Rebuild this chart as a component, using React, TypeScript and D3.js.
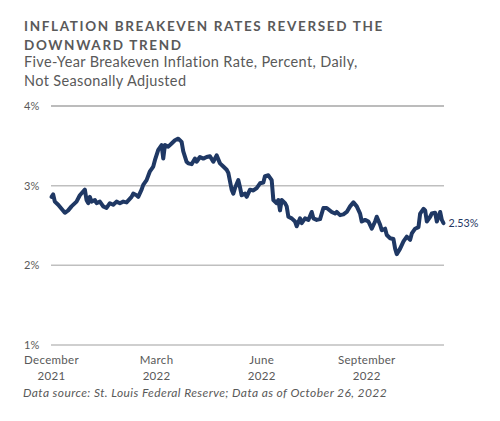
import React from "react";
import * as d3 from "d3";

const titleLines = ["INFLATION BREAKEVEN RATES REVERSED THE", "DOWNWARD TREND"];
const subtitleLines = ["Five-Year Breakeven Inflation Rate, Percent, Daily,", "Not Seasonally Adjusted"];
const sourceText = "Data source: St. Louis Federal Reserve; Data as of October 26, 2022";

// trading-day number counted from December 1, 2021
const tradingDay = [
  0, 1, 2, 4, 6, 8, 10, 12, 15, 17, 20, 21, 22, 23, 24, 26, 27, 29, 31, 33,
  35, 37, 39, 41, 43, 45, 48, 49, 51, 52, 54, 55, 57, 59, 61, 62, 64, 66, 67, 68,
  70, 72, 74, 76, 78, 79, 81, 82, 84, 86, 87, 89, 91, 93, 95, 97, 99, 101, 103, 105,
  106, 108, 109, 110, 112, 113, 114, 116, 117, 119, 121, 123, 125, 127, 128, 130, 132, 133, 135, 136,
  137, 138, 140, 141, 142, 144, 146, 147, 149, 150, 152, 154, 156, 157, 159, 161, 163, 165, 168, 170,
  171, 173, 175, 177, 179, 181, 183, 185, 186, 188, 190, 192, 194, 195, 197, 198, 200, 201, 203, 205,
  206, 207, 209, 211, 213, 215, 216, 218, 220, 221, 223, 224, 225, 227, 228, 230, 231, 233, 234, 235,
];
const rate = [
  2.86, 2.89, 2.80, 2.76, 2.71, 2.66, 2.69, 2.74, 2.80, 2.88, 2.95, 2.82, 2.78, 2.86, 2.80, 2.82, 2.78, 2.80, 2.74, 2.72,
  2.78, 2.76, 2.80, 2.78, 2.80, 2.79, 2.86, 2.90, 2.88, 2.86, 2.95, 3.01, 3.07, 3.18, 3.24, 3.32, 3.45, 3.51, 3.34, 3.51,
  3.49, 3.53, 3.57, 3.59, 3.55, 3.43, 3.30, 3.28, 3.27, 3.34, 3.30, 3.36, 3.34, 3.36, 3.37, 3.30, 3.38, 3.28, 3.24, 3.20,
  3.16, 2.95, 2.90, 2.97, 3.07, 2.98, 2.88, 2.90, 2.86, 2.95, 2.94, 2.97, 3.03, 3.04, 3.12, 3.13, 3.07, 2.82, 2.78, 2.82,
  2.69, 2.82, 2.78, 2.74, 2.61, 2.59, 2.55, 2.49, 2.59, 2.53, 2.59, 2.57, 2.67, 2.59, 2.57, 2.58, 2.72, 2.72, 2.67, 2.65,
  2.67, 2.63, 2.64, 2.67, 2.74, 2.79, 2.74, 2.65, 2.55, 2.57, 2.55, 2.46, 2.55, 2.61, 2.51, 2.44, 2.46, 2.38, 2.34, 2.33,
  2.21, 2.14, 2.21, 2.30, 2.36, 2.32, 2.40, 2.46, 2.48, 2.65, 2.71, 2.69, 2.55, 2.61, 2.65, 2.66, 2.55, 2.67, 2.57, 2.53,
];

const yTicks = [1, 2, 3, 4];
const xTickDay = [0, 63, 126, 189];
const xTickMonth = ["December", "March", "June", "September"];
const xTickYear = ["2021", "2022", "2022", "2022"];

const W = 500;
const H = 421;

export default function App() {
  const x = d3.scaleLinear().domain([0, 235]).range([51.5, 443.5]);
  const y = d3.scaleLinear().domain([1, 4]).range([345, 106]);
  const points = tradingDay.map((d, i) => [d, rate[i]] as [number, number]);
  const line = d3
    .line<[number, number]>()
    .x((d) => x(d[0]))
    .y((d) => y(d[1]));
  const last = points[points.length - 1];
  const navy = "#1f3864";
  const gray = "#595959";

  return (
    <svg
      width={W}
      height={H}
      style={{ position: "absolute", left: 0, top: 0, background: "#fff" }}
    >
      <rect width={W} height={H} fill="#fff" />
      {titleLines.map((t, i) => (
        <text
          key={t}
          x={24}
          y={31 + i * 19}
          fill={gray}
          fontFamily="Lato, 'Open Sans', sans-serif"
          fontWeight={700}
          fontSize={13.5}
          letterSpacing={1.65}
        >
          {t}
        </text>
      ))}
      {subtitleLines.map((t, i) => (
        <text
          key={t}
          x={24}
          y={67 + i * 18.5}
          fill={gray}
          fontFamily="Lato, 'Open Sans', sans-serif"
          fontSize={14.5}
          letterSpacing={0.36}
        >
          {t}
        </text>
      ))}
      {yTicks.map((t) => (
        <g key={t}>
          <line
            x1={51}
            x2={444}
            y1={y(t)}
            y2={y(t)}
            stroke={t === 4 ? "#a6a6a6" : "#bfbfbf"}
            strokeWidth={1.5}
          />
          <text
            x={24}
            y={y(t)}
            dy="0.35em"
            fill={gray}
            fontFamily="Lato, sans-serif"
            fontSize={11}
          >
            {t}%
          </text>
        </g>
      ))}
      <path
        d={line(points) || ""}
        fill="none"
        stroke={navy}
        strokeWidth={4}
        strokeLinejoin="round"
        strokeLinecap="round"
      />
      <text
        x={x(last[0]) + 5}
        y={y(last[1])}
        dy="0.35em"
        fill={navy}
        fontFamily="Lato, sans-serif"
        fontSize={10.8}
      >
        {last[1].toFixed(2)}%
      </text>
      {xTickDay.map((d, i) => (
        <g key={d}>
          <text
            x={x(d)}
            y={364}
            textAnchor="middle"
            fill={gray}
            fontFamily="Lato, sans-serif"
            fontSize={11.5}
            letterSpacing={0.3}
          >
            {xTickMonth[i]}
          </text>
          <text
            x={x(d)}
            y={379.5}
            textAnchor="middle"
            fill={gray}
            fontFamily="Lato, sans-serif"
            fontSize={11.5}
            letterSpacing={0.3}
          >
            {xTickYear[i]}
          </text>
        </g>
      ))}
      <text
        x={23}
        y={397}
        fill={gray}
        fontFamily="Lato, sans-serif"
        fontStyle="italic"
        fontSize={12}
        letterSpacing={0.4}
      >
        {sourceText}
      </text>
    </svg>
  );
}
